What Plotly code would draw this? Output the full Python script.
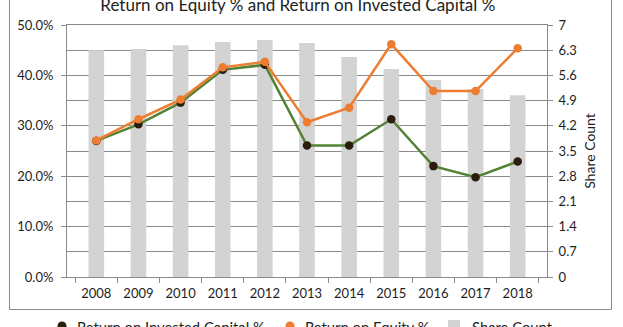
import plotly.graph_objects as go

# Fiscal years on the category axis
years = ["2008", "2009", "2010", "2011", "2012", "2013",
         "2014", "2015", "2016", "2017", "2018"]

# Return on invested capital and return on equity, in percent
roic_pct = [27.0, 30.3, 34.6, 41.1, 42.1, 26.1, 26.1, 31.3, 22.0, 19.8, 22.9]
roe_pct = [27.1, 31.3, 35.2, 41.6, 42.7, 30.7, 33.6, 46.2, 36.9, 36.9, 45.4]

# Share count (right-hand scale)
share_count = [6.30, 6.33, 6.44, 6.53, 6.58, 6.50, 6.11, 5.78, 5.47, 5.22, 5.05]

# Tick labels for both value axes
pct_ticks = [0, 10, 20, 30, 40, 50]
pct_labels = ["0.0%", "10.0%", "20.0%", "30.0%", "40.0%", "50.0%"]
share_ticks = [0, 0.7, 1.4, 2.1, 2.8, 3.5, 4.2, 4.9, 5.6, 6.3, 7.0]
share_labels = ["0", "0.7", "1.4", "2.1", "2.8", "3.5", "4.2", "4.9", "5.6", "6.3", "7"]

W, H = 623, 327
ML, MR, MT, MB = 67, 76, 25, 50
FONT = "Lato"
TXT = "#1e1e1e"
GRID = "#8a8a8a"
ORANGE = "#ED7D31"
GREEN = "#548235"
DARK = "#2a1d0b"
BAR = "#d3d3d3"

fig = go.Figure()

# Bars sit on the main (right-hand) axis so the lines overlay them
fig.add_trace(go.Bar(
    x=years, y=share_count, name="Share Count",
    marker=dict(color=BAR, line=dict(width=0)),
    yaxis="y", showlegend=False,
))

fig.add_trace(go.Scatter(
    x=years, y=roic_pct, name="Return on Invested Capital %",
    mode="lines+markers", yaxis="y2",
    line=dict(color=GREEN, width=2.5),
    marker=dict(color=DARK, size=8.5),
    showlegend=False,
))

fig.add_trace(go.Scatter(
    x=years, y=roe_pct, name="Return on Equity %",
    mode="lines+markers", yaxis="y2",
    line=dict(color=ORANGE, width=2.5),
    marker=dict(color=ORANGE, size=8.5),
    showlegend=False,
))


def px_x(px):
    return (px - ML) / (W - ML - MR)


def px_y(py):
    return (H - MB - py) / (H - MT - MB)


# Chart frame
fig.add_shape(type="rect", xref="paper", yref="paper",
              x0=px_x(9.5), x1=px_x(611.5), y0=px_y(309.5), y1=px_y(-10),
              line=dict(color=GRID, width=1), fillcolor="rgba(0,0,0,0)",
              layer="below")

# Legend row below the frame: symbol + label for each series
legend_items = [
    ("Return on Invested Capital %", "circle", DARK, 62),
    ("Return on Equity %", "circle", ORANGE, 290),
    ("Share Count", "rect", BAR, 454),
]
LEG_Y = 326
for label, kind, col, cx in legend_items:
    fig.add_shape(type=kind, xref="paper", yref="paper",
                  xsizemode="pixel", ysizemode="pixel",
                  xanchor=px_x(cx), yanchor=px_y(LEG_Y),
                  x0=-4.5 if kind == "circle" else -6,
                  x1=4.5 if kind == "circle" else 6,
                  y0=-4.5 if kind == "circle" else -6,
                  y1=4.5 if kind == "circle" else 6,
                  fillcolor=col, line=dict(width=0))
    fig.add_annotation(text=label, xref="paper", yref="paper",
                       x=px_x(cx + (13 if kind == "circle" else 16)),
                       y=px_y(LEG_Y + 1),
                       xanchor="left", yanchor="middle", showarrow=False,
                       font=dict(family=FONT, size=14.8, color=TXT))

axis_common = dict(
    showline=True, linecolor=GRID, linewidth=1,
    ticks="outside", ticklen=5, tickcolor=GRID, tickwidth=1,
    tickfont=dict(family=FONT, size=13, color=TXT),
    zeroline=False,
)

fig.update_layout(
    width=W, height=H,
    margin=dict(l=ML, r=MR, t=MT, b=MB),
    paper_bgcolor="white", plot_bgcolor="white",
    font=dict(family=FONT, size=13, color=TXT),
    bargap=0.63,
    showlegend=False,
    title=dict(
        text="Return on Equity % and Return on Invested Capital %",
        x=0.478, xanchor="center", xref="container",
        y=1 - 5 / H, yanchor="middle", yref="container",
        font=dict(family=FONT, size=17, color=TXT),
    ),
    xaxis=dict(
        type="category", tickson="boundaries", showgrid=False,
        mirror=True, ticklabelstandoff=4, **axis_common,
    ),
    yaxis=dict(
        side="right", range=[0, 7],
        tickmode="array", tickvals=share_ticks, ticktext=share_labels,
        showgrid=True, gridcolor=GRID, gridwidth=1,
        ticklabelstandoff=3,
        title=dict(text="Share Count", standoff=8,
                   font=dict(family=FONT, size=14, color=TXT)),
        **axis_common,
    ),
    yaxis2=dict(
        side="left", overlaying="y", range=[0, 50],
        tickmode="array", tickvals=pct_ticks, ticktext=pct_labels,
        showgrid=False, ticklabelstandoff=5,
        **axis_common,
    ),
)

fig.write_html("out.html")
